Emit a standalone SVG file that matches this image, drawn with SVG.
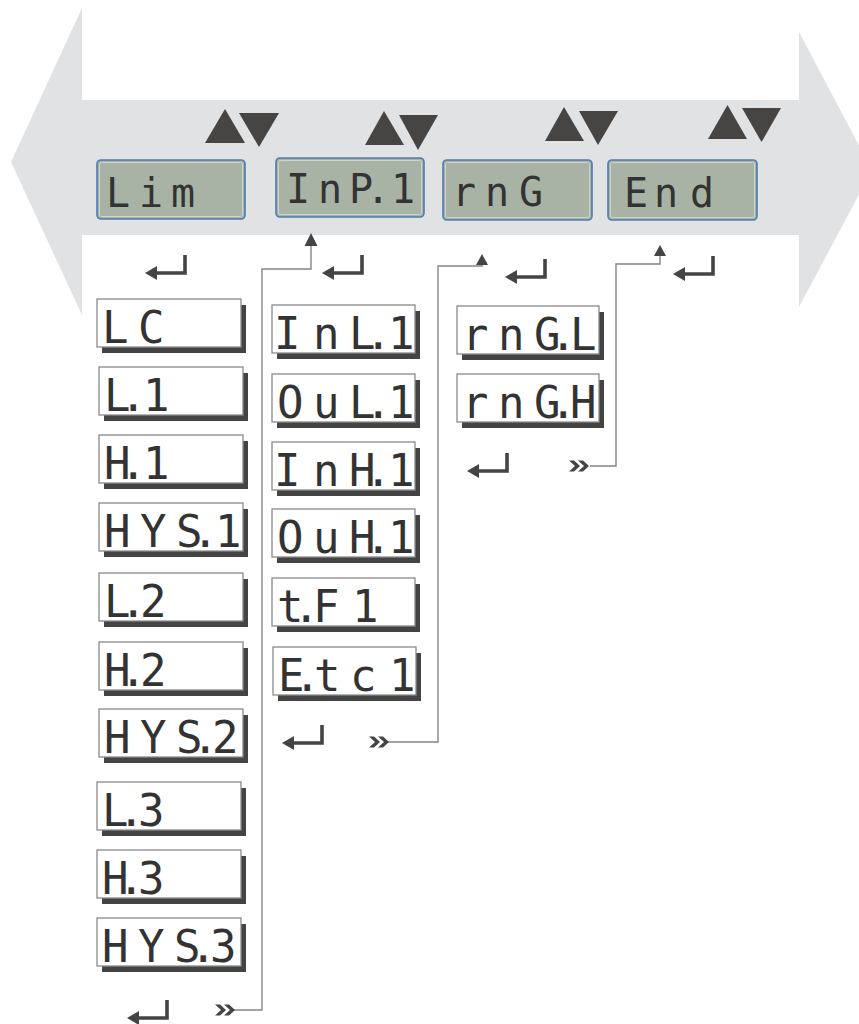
<svg xmlns="http://www.w3.org/2000/svg" xmlns:xlink="http://www.w3.org/1999/xlink" width="859" height="1024" viewBox="0 0 859 1024">
<style>
.bg{fill:#e1e2e4}
.tri{fill:#464544}
.disp{fill:#a9b3a5;stroke:#4d7bb0;stroke-width:1.6}
.dispin{fill:none;stroke:#cfd4cd;stroke-width:1}
.dt{font-family:"DejaVu Sans Mono","Liberation Mono",monospace;font-size:40px;fill:#333}
.box{fill:#fff;stroke:#8a8a8a;stroke-width:1.3}
.sh{fill:#444}
.mt{font-family:"DejaVu Sans Mono","Liberation Mono",monospace;font-size:44px;fill:#333}
.ln{fill:none;stroke:#858585;stroke-width:1.4}
.ah{fill:#444}
.ret{fill:none;stroke:#444;stroke-width:3.6}
</style>
<defs>
<g id="ret">
<path class="ret" d="M40,-18 V0 H10"/>
<path class="ah" d="M0,0 L12,-7 L12,7 Z"/>
</g>
<g id="chev">
<path class="ah" d="M0,0 L5,0 L11,5.5 L5,11 L0,11 L6,5.5 Z"/>
<path class="ah" d="M9,0 L14,0 L20,5.5 L14,11 L9,11 L15,5.5 Z"/>
</g>
</defs>
<g id="band">
<polygon class="bg" points="11,162 82,8 82,100 799,100 799,32 872,170 799,307 799,235 82,235 82,315"/>
</g>
<g id="updown">
<polygon class="tri" points="205,143 245,143 225,109"/>
<polygon class="tri" points="239,113 279,113 259,147"/>
<polygon class="tri" points="365,145 404,145 384,111"/>
<polygon class="tri" points="399,115 438,115 418,150"/>
<polygon class="tri" points="545,141 584,141 564,107"/>
<polygon class="tri" points="579,111 618,111 598,145"/>
<polygon class="tri" points="708,139 747,139 727.5,105"/>
<polygon class="tri" points="742,108 781,108 761.5,142"/>
</g>
<g id="d-Lim">
<rect class="disp" x="97" y="160" width="148" height="59" rx="4"/>
<rect class="dispin" x="99.5" y="162.5" width="143" height="54" rx="2"/>
<text class="dt" x="106 139 171" y="207">Lim</text>
</g>
<g id="d-InP1">
<rect class="disp" x="276" y="158" width="148" height="59" rx="4"/>
<rect class="dispin" x="278.5" y="160.5" width="143" height="54" rx="2"/>
<text class="dt" x="286 318 349 366 391" y="203">InP.1</text>
</g>
<g id="d-rnG">
<rect class="disp" x="443" y="160" width="149" height="60" rx="4"/>
<rect class="dispin" x="445.5" y="162.5" width="144" height="55" rx="2"/>
<text class="dt" x="452 485 519" y="206">rnG</text>
</g>
<g id="d-End">
<rect class="disp" x="608" y="160" width="149" height="60" rx="4"/>
<rect class="dispin" x="610.5" y="162.5" width="144" height="55" rx="2"/>
<text class="dt" x="624 654 690" y="207">End</text>
</g>
<g id="m-LC"><rect class="sh" x="102" y="305" width="144" height="48"/><rect class="box" x="97" y="299" width="144" height="48"/><text class="mt" x="102 138" y="343">LC</text></g>
<g id="m-L1"><rect class="sh" x="104" y="373" width="144" height="48"/><rect class="box" x="99" y="367" width="144" height="48"/><text class="mt" x="104 120 143" y="411">L.1</text></g>
<g id="m-H1"><rect class="sh" x="104" y="441" width="144" height="48"/><rect class="box" x="99" y="435" width="144" height="48"/><text class="mt" x="104 120 143" y="479">H.1</text></g>
<g id="m-HYS1"><rect class="sh" x="104" y="509" width="144" height="48"/><rect class="box" x="99" y="503" width="144" height="48"/><text class="mt" x="104 140 176 192 215" y="547">HYS.1</text></g>
<g id="m-L2"><rect class="sh" x="104" y="579" width="144" height="48"/><rect class="box" x="99" y="573" width="144" height="48"/><text class="mt" x="104 120 140" y="617">L.2</text></g>
<g id="m-H2"><rect class="sh" x="104" y="648" width="144" height="48"/><rect class="box" x="99" y="642" width="144" height="48"/><text class="mt" x="104 120 140" y="686">H.2</text></g>
<g id="m-HYS2"><rect class="sh" x="104" y="715" width="144" height="48"/><rect class="box" x="99" y="709" width="144" height="48"/><text class="mt" x="104 140 176 192 212" y="753">HYS.2</text></g>
<g id="m-L3"><rect class="sh" x="102" y="788" width="144" height="48"/><rect class="box" x="97" y="782" width="144" height="48"/><text class="mt" x="102 118 138" y="826">L.3</text></g>
<g id="m-H3"><rect class="sh" x="102" y="856" width="144" height="48"/><rect class="box" x="97" y="850" width="144" height="48"/><text class="mt" x="102 118 138" y="894">H.3</text></g>
<g id="m-HYS3"><rect class="sh" x="102" y="924" width="144" height="48"/><rect class="box" x="97" y="918" width="144" height="48"/><text class="mt" x="102 138 174 190 210" y="962">HYS.3</text></g>
<g id="m-InL1"><rect class="sh" x="277" y="311" width="143" height="48"/><rect class="box" x="272" y="305" width="143" height="48"/><text class="mt" x="274 313 349 365 388" y="349">InL.1</text></g>
<g id="m-OuL1"><rect class="sh" x="277" y="380" width="143" height="48"/><rect class="box" x="272" y="374" width="143" height="48"/><text class="mt" x="277 313 349 365 388" y="418">OuL.1</text></g>
<g id="m-InH1"><rect class="sh" x="277" y="448" width="143" height="48"/><rect class="box" x="272" y="442" width="143" height="48"/><text class="mt" x="274 313 349 365 388" y="486">InH.1</text></g>
<g id="m-OuH1"><rect class="sh" x="277" y="515" width="143" height="48"/><rect class="box" x="272" y="509" width="143" height="48"/><text class="mt" x="277 313 349 365 388" y="553">OuH.1</text></g>
<g id="m-tF1"><rect class="sh" x="277" y="584" width="143" height="48"/><rect class="box" x="272" y="578" width="143" height="48"/><text class="mt" x="277 293 313 352" y="622">t.F1</text></g>
<g id="m-Etc1"><rect class="sh" x="278" y="653" width="143" height="48"/><rect class="box" x="273" y="647" width="143" height="48"/><text class="mt" x="278 294 314 350 389" y="691">E.tc1</text></g>
<g id="m-rnGL"><rect class="sh" x="462" y="312" width="142" height="48"/><rect class="box" x="457" y="306" width="142" height="48"/><text class="mt" x="462 498 534 550 570" y="350">rnG.L</text></g>
<g id="m-rnGH"><rect class="sh" x="462" y="380" width="142" height="48"/><rect class="box" x="457" y="374" width="142" height="48"/><text class="mt" x="462 498 534 550 570" y="418">rnG.H</text></g>
<g id="connectors">
<polyline class="ln" points="234,1010 262,1010 262,269 311,269 311,244"/>
<polygon class="ah" points="311,233 304.5,246 317.5,246"/>
<polyline class="ln" points="388,742 438,742 438,266 482,266 482,262"/>
<polygon class="ah" points="482,254 476,265 488,265"/>
<polyline class="ln" points="590,466 616,466 616,264 660,264 660,254"/>
<polygon class="ah" points="660,245 654,256 666,256"/>
<use xlink:href="#chev" x="215" y="1004.5"/>
<use xlink:href="#chev" x="369" y="736.5"/>
<use xlink:href="#chev" x="569" y="460.5"/>
<use xlink:href="#ret" x="145" y="273"/>
<use xlink:href="#ret" x="322" y="273"/>
<use xlink:href="#ret" x="505" y="277"/>
<use xlink:href="#ret" x="673" y="274"/>
<use xlink:href="#ret" x="467" y="471"/>
<use xlink:href="#ret" x="282" y="743"/>
<use xlink:href="#ret" x="127" y="1018"/>
</g>
</svg>
